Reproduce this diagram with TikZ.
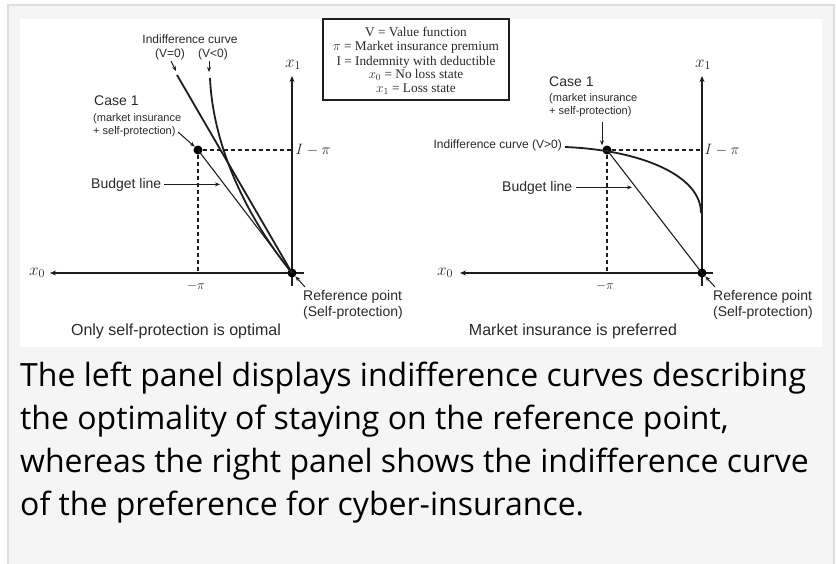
\RequirePackage{fix-cm}
\documentclass[tikz,border=0pt]{standalone}
\usepackage{fontspec}
\setmainfont{Liberation Sans}
\newfontfamily\capfont{Open Sans}
\newfontfamily\legfont{Liberation Serif}
\usetikzlibrary{arrows.meta}
\definecolor{panelgray}{HTML}{F5F5F5}
\definecolor{bordergray}{HTML}{DEDEDE}
\definecolor{figtext}{HTML}{2A2A2A}
\definecolor{figline}{HTML}{1E1E1E}
\begin{document}
\begin{tikzpicture}[x=1pt,y=-1pt,
  txtbase/.style={inner sep=0pt, text=figtext, anchor=base west},
  bigtxt/.style={txtbase, font=\fontsize{14}{16}\selectfont},
  midtxt/.style={txtbase, font=\fontsize{12}{14}\selectfont},
  smalltxt/.style={txtbase, font=\fontsize{11}{13}\selectfont},
  paneltitle/.style={txtbase, anchor=base, font=\fontsize{16}{18}\selectfont},
  mathlbl/.style={inner sep=0pt, text=figtext, font=\fontsize{15}{17}\selectfont},
  axlbl/.style={inner sep=0pt, text=figtext, font=\fontsize{17}{19}\selectfont},
  legtxt/.style={inner sep=0pt, text=figtext, anchor=base, font=\legfont\fontsize{13.3}{15}\selectfont},
  captext/.style={inner sep=0pt, anchor=base west, text=black, font=\capfont\fontsize{32}{40}\selectfont},
  axisline/.style={draw=figline, line width=1.4pt, -{Stealth[length=6pt,width=5pt]}},
  pointer/.style={draw=figline, line width=1pt, -{Stealth[length=5pt,width=4pt]}},
  guideline/.style={draw=figline, line width=1.1pt, dash pattern=on 4pt off 3pt},
  icurve/.style={draw=figline, line width=1.8pt},
  bline/.style={draw=figline, line width=1.1pt},
  dotnode/.style={circle, fill=black, inner sep=0pt, minimum size=9pt}
]
\useasboundingbox (0,0) rectangle (836,563);
\fill[white] (0,0) rectangle (836,563);
\draw[fill=panelgray, draw=bordergray, line width=1.6pt] (8,5) rectangle (834,580);
\fill[white] (20,19) rectangle (822,347);

% ---------- legend ----------
\node[draw=figline, line width=1.2pt, minimum width=186pt, minimum height=81pt, inner sep=0pt] (legend) at (416,59.5) {};
\node[legtxt] (l1) at (416,36.5) {V = Value function};
\node[legtxt] (l2) at (416,50.5) {$\pi$ = Market insurance premium};
\node[legtxt] (l3) at (416,65) {I = Indemnity with deductible};
\node[legtxt] (l4) at (416,78.5) {$x_0$ = No loss state};
\node[legtxt] (l5) at (416,92.5) {$x_1$ = Loss state};

% ---------- left panel ----------
\coordinate (Lx0end) at (50,273);
\coordinate (Lx0start) at (304,273);
\coordinate (Lx1end) at (292,76);
\coordinate (Lx1start) at (292,286);
\draw[axisline] (Lx0start) -- (Lx0end);
\draw[axisline] (Lx1start) -- (Lx1end);
\node[axlbl] (Lx0) at (37,273) {$x_0$};
\node[axlbl] (Lx1) at (293,65) {$x_1$};

\node[dotnode] (Lref) at (292,273) {};
\node[dotnode] (Lcase) at (198,150) {};
\coordinate (Laxh) at (292,150);
\coordinate (Laxv) at (198,273);
\draw[guideline] (Lcase) -- (Laxh);
\draw[guideline] (Lcase) -- (Laxv);
\node[mathlbl] (LIpi) at (313,150) {$I-\pi$};
\node[mathlbl, font=\fontsize{13}{15}\selectfont] (Lmpi) at (196,286) {$-\pi$};

\coordinate (Lv0top) at (177,75);
\coordinate (Lvntop) at (210,78);
\draw[icurve] (Lv0top) -- (Lref.center);
\draw[icurve] (Lvntop) .. controls (213,145) and (245,215) .. (Lref.center);
\draw[bline] (Lcase.center) -- (Lref.center);

\node[midtxt, anchor=base] (Lic) at (190,43) {Indifference curve};
\node[midtxt, anchor=base] (Lv0) at (170,57) {(V=0)};
\node[midtxt, anchor=base] (Lvn) at (213,57) {(V<0)};
\coordinate (Lv0tail) at (171,61);
\coordinate (Lv0tip) at (176,71);
\coordinate (Lvntail) at (209,61);
\coordinate (Lvntip) at (209,72);
\draw[pointer] (Lv0tail) -- (Lv0tip);
\draw[pointer] (Lvntail) -- (Lvntip);

\node[bigtxt] (Lc1) at (94,105) {Case 1};
\node[smalltxt] (Lc2) at (93,121) {(market insurance};
\node[smalltxt] (Lc3) at (93,134) {+ self-protection)};
\coordinate (Lctail) at (178,132);
\draw[pointer] (Lctail) -- (Lcase.north west);

\node[bigtxt] (Lbl) at (91,188) {Budget line};
\coordinate (Lbltip) at (220,183);
\draw[pointer] ([xshift=3pt]Lbl.east) -- (Lbl.east -| Lbltip);

\node[bigtxt] (Lr1) at (303,300) {Reference point};
\node[bigtxt] (Lr2) at (303,316) {(Self-protection)};
\coordinate (Lrtail) at (305,287);
\draw[pointer] (Lrtail) -- (Lref.south east);

\node[paneltitle] (Lt) at (176,335) {Only self-protection is optimal};

% ---------- right panel ----------
\coordinate (Rx0end) at (460,273);
\coordinate (Rx0start) at (713,273);
\coordinate (Rx1end) at (702,76);
\coordinate (Rx1start) at (702,286);
\draw[axisline] (Rx0start) -- (Rx0end);
\draw[axisline] (Rx1start) -- (Rx1end);
\node[axlbl] (Rx0) at (445,273) {$x_0$};
\node[axlbl] (Rx1) at (703,65) {$x_1$};

\node[dotnode] (Rref) at (702,273) {};
\node[dotnode] (Rcase) at (607,150) {};
\coordinate (Raxh) at (702,150);
\coordinate (Raxv) at (607,273);
\draw[guideline] (Rcase) -- (Raxh);
\draw[guideline] (Rcase) -- (Raxv);
\node[mathlbl] (RIpi) at (722,150) {$I-\pi$};
\node[mathlbl, font=\fontsize{13}{15}\selectfont] (Rmpi) at (605,286) {$-\pi$};

\node[midtxt, anchor=base east] (Ric) at (562,148) {Indifference curve (V>0)};
\coordinate (Rcstart) at (565,147);
\coordinate (Rcend) at (701,213);
\draw[icurve] (Rcstart) .. controls (640,150) and (701,175) .. (Rcend);
\draw[bline] (Rcase.center) -- (Rref.center);

\node[bigtxt] (Rc1) at (549,86) {Case 1};
\node[smalltxt] (Rc2) at (549,101) {(market insurance};
\node[smalltxt] (Rc3) at (549,114) {+ self-protection)};
\coordinate (Rctail) at (602,122);
\draw[pointer] (Rctail) -- (Rctail |- Rcase.north);

\node[bigtxt] (Rbl) at (502,191) {Budget line};
\coordinate (Rbltip) at (632,186);
\draw[pointer] ([xshift=4pt]Rbl.east) -- (Rbl.east -| Rbltip);

\node[bigtxt] (Rr1) at (713,300) {Reference point};
\node[bigtxt] (Rr2) at (713,316) {(Self-protection)};
\coordinate (Rrtail) at (715,287);
\draw[pointer] (Rrtail) -- (Rref.south east);

\node[paneltitle] (Rt) at (573,335) {Market insurance is preferred};

% ---------- caption ----------
\node[captext] (c1) at (20,386) {The left panel displays indifference curves describing};
\node[captext] (c2) at (20,429) {the optimality of staying on the reference point,};
\node[captext] (c3) at (20,472) {whereas the right panel shows the indifference curve};
\node[captext] (c4) at (20,515) {of the preference for cyber-insurance.};
\end{tikzpicture}
\end{document}
